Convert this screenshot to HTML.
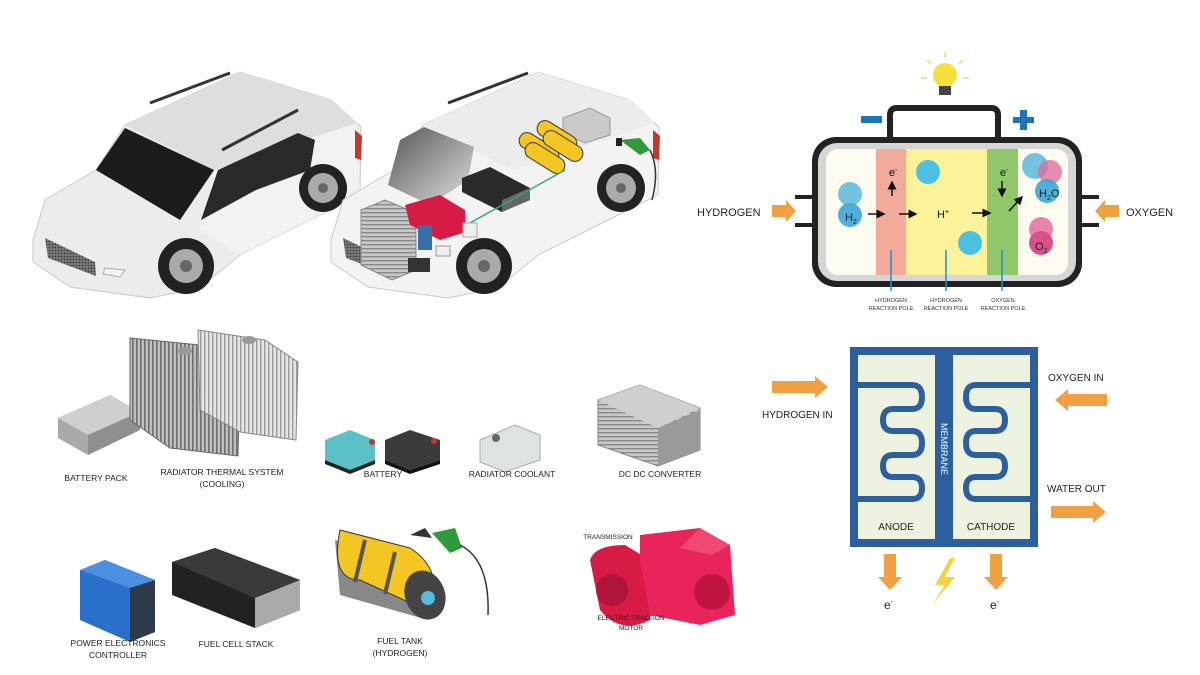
<!DOCTYPE html>
<html><head><meta charset="utf-8"><style>
html,body{margin:0;padding:0;background:#fff;}
svg{display:block;font-family:"Liberation Sans",sans-serif;}
</style></head><body>
<svg width="1200" height="675" viewBox="0 0 1200 675" xmlns="http://www.w3.org/2000/svg">
<defs>
<marker id="ah" markerWidth="6" markerHeight="6" refX="5" refY="3" orient="auto"><path d="M0,0L6,3L0,6z" fill="#111"/></marker>
<pattern id="fins" width="4" height="4" patternUnits="userSpaceOnUse"><rect width="4" height="4" fill="#bfbfbf"/><rect width="1.6" height="4" fill="#6e6e6e"/></pattern>
<pattern id="fins2" width="4" height="4" patternUnits="userSpaceOnUse"><rect width="4" height="4" fill="#e6e6e6"/><rect width="1.4" height="4" fill="#9a9a9a"/></pattern>
<pattern id="hfins" width="4" height="4" patternUnits="userSpaceOnUse"><rect width="4" height="4" fill="#c8c8c8"/><rect width="4" height="1.4" fill="#8a8a8a"/></pattern>
<pattern id="grille" width="3" height="3" patternUnits="userSpaceOnUse"><rect width="3" height="3" fill="#777"/><circle cx="1.5" cy="1.5" r="0.8" fill="#333"/></pattern>
<linearGradient id="bay" x1="0" y1="0" x2="1" y2="1"><stop offset="0" stop-color="#555"/><stop offset="1" stop-color="#e0e0e0"/></linearGradient>
</defs>
<rect width="1200" height="675" fill="#fff"/>

<!-- LEFT CAR -->
<g id="car">
<path d="M33,240 L45,200 L96,170 L125,125 L240,72 L331,100 L361,127 L360,195 L320,215 L240,255 L200,288 L150,298 L70,287 L33,262 Z" fill="#ececec" stroke="#c9c9c9"/>
<path d="M125,125 L240,72 L331,100 L357,123 L214,170 Z" fill="#dedede"/>
<path d="M214,170 L357,123 L360,195 L320,215 L240,255 L200,230 Z" fill="#f2f2f2"/>
<path d="M96,170 L125,128 L214,170 L180,220 Z" fill="#1c1c1c"/>
<path d="M201,220 L218,170 L298,133 L315,140 L310,170 L256,190 Z" fill="#2a2a2a"/>
<path d="M150,103 L230,73" stroke="#333" stroke-width="3" fill="none"/>
<path d="M222,150 L298,110" stroke="#333" stroke-width="3" fill="none"/>
<path d="M45,238 L95,262 L96,276 L48,258 Z" fill="url(#grille)"/>
<path d="M105,268 L125,270 L120,277 L103,274Z" fill="#f4f4f4" stroke="#aaa"/>
<path d="M355,130 L362,136 L361,160 L355,158Z" fill="#c0392b"/>
<circle cx="186" cy="266" r="28" fill="#222"/><circle cx="186" cy="266" r="17" fill="#aaa"/><circle cx="186" cy="266" r="6" fill="#666"/>
<circle cx="323" cy="188" r="24" fill="#222"/><circle cx="323" cy="188" r="15" fill="#aaa"/><circle cx="323" cy="188" r="5" fill="#666"/>
</g>

<!-- RIGHT CAR -->
<g transform="translate(298,0)">
<path d="M33,240 L45,200 L96,170 L125,125 L240,72 L331,100 L361,127 L360,195 L320,215 L240,255 L200,288 L150,298 L70,287 L33,262 Z" fill="#f3f3f3" stroke="#c9c9c9"/>
<path d="M125,125 L240,72 L331,100 L357,123 L214,170 Z" fill="#ececec"/>
<path d="M150,103 L230,73" stroke="#333" stroke-width="3" fill="none"/>
<path d="M45,238 L95,262 L96,276 L48,258 Z" fill="url(#grille)"/>
<path d="M355,130 L362,136 L361,160 L355,158Z" fill="#c0392b"/>
</g>
<path d="M388,185 L400,140 L424,127 L474,147 L468,180 L430,205 Z" fill="url(#bay)"/>
<path d="M563,118 L590,108 L610,118 L610,135 L585,143 L563,133Z" fill="#c9c9c9" stroke="#999"/>
<g stroke="#333" stroke-width="1">
<rect x="517" y="140" width="44" height="16" rx="8" fill="#f3c623" transform="rotate(32 539 148)"/>
<rect x="535" y="128" width="44" height="16" rx="8" fill="#f3c623" transform="rotate(32 557 136)"/>
<rect x="523" y="150" width="44" height="16" rx="8" fill="#f3c623" transform="rotate(32 545 158)"/>
<rect x="541" y="138" width="44" height="16" rx="8" fill="#f3c623" transform="rotate(32 563 146)"/>
</g>
<path d="M462,178 L490,167 L530,188 L530,200 L502,212 L462,192Z" fill="#2a2a2a"/>
<path d="M502,200 L530,188 L530,200 L502,212Z" fill="#666"/>
<path d="M470,223 L565,170" stroke="#3aa37a" stroke-width="1.5"/>
<path d="M361,210 L385,200 L416,213 L416,270 L392,280 L361,265Z" fill="url(#hfins)" stroke="#888"/>
<path d="M405,205 L440,195 L465,210 L466,232 L440,240 L410,225Z" fill="#d81b45"/>
<rect x="418" y="225" width="14" height="25" fill="#3a6ea8"/>
<rect x="408" y="258" width="22" height="14" fill="#333"/>
<rect x="436" y="246" width="14" height="10" fill="#eee" stroke="#999"/>
<rect x="463" y="223" width="14" height="14" fill="#eee" stroke="#aaa"/>
<path d="M620,140 L640,138 L650,150 L640,155Z" fill="#2e9a3b"/>
<rect x="616" y="138" width="6" height="8" fill="#222"/>
<path d="M650,150 Q660,170 652,200" stroke="#333" fill="none" stroke-width="1.5"/>
<circle cx="484" cy="266" r="28" fill="#222"/><circle cx="484" cy="266" r="17" fill="#aaa"/><circle cx="484" cy="266" r="6" fill="#666"/>
<circle cx="621" cy="188" r="24" fill="#222"/><circle cx="621" cy="188" r="15" fill="#aaa"/><circle cx="621" cy="188" r="5" fill="#666"/>

<!-- COMPONENTS ROW 1 -->
<path d="M58,418 L110,395 L140,412 L140,430 L88,455 L58,438Z" fill="#a9a9a9"/>
<path d="M58,418 L110,395 L140,412 L88,435Z" fill="#cfcfcf"/>
<path d="M88,435 L140,412 L140,430 L88,455Z" fill="#8f8f8f"/>
<path d="M130,338 L200,345 L240,372 L238,456 L170,448 L130,420Z" fill="url(#fins)" stroke="#666"/>
<path d="M198,330 L265,340 L298,362 L296,440 L240,432 L200,410Z" fill="url(#fins2)" stroke="#888"/>
<ellipse cx="185" cy="351" rx="7" ry="4" fill="#999"/><ellipse cx="249" cy="340" rx="7" ry="4" fill="#999"/>
<path d="M325,440 L350,430 L375,440 L375,460 L350,470 L325,460Z" fill="#5bc0c8"/>
<path d="M325,460 L350,470 L375,460 L375,464 L350,474 L325,464Z" fill="#222"/>
<path d="M385,440 L410,430 L440,440 L440,460 L410,470 L385,460Z" fill="#3b3b3b"/>
<path d="M385,460 L410,470 L440,460 L440,464 L410,474 L385,464Z" fill="#111"/>
<circle cx="372" cy="442" r="3" fill="#c0392b"/><circle cx="434" cy="441" r="3" fill="#c0392b"/>
<path d="M480,440 L515,425 L540,435 L540,460 L505,472 L480,462Z" fill="#dde3df" stroke="#aaa"/>
<circle cx="496" cy="438" r="4" fill="#666"/>
<path d="M598,400 L640,385 L700,408 L700,450 L658,466 L598,445Z" fill="url(#hfins)" stroke="#888"/>
<path d="M658,428 L700,410 L700,450 L658,466Z" fill="#9a9a9a"/>
<path d="M598,400 L640,385 L700,408 L658,428Z" fill="#cfcfcf"/>

<g font-size="8.5" fill="#222" text-anchor="middle">
<text x="96" y="481">BATTERY PACK</text>
<text x="222" y="475">RADIATOR THERMAL SYSTEM</text><text x="222" y="487">(COOLING)</text>
<text x="383" y="477">BATTERY</text>
<text x="512" y="477">RADIATOR COOLANT</text>
<text x="660" y="477">DC DC CONVERTER</text>
</g>

<!-- ROW 2 -->
<path d="M80,570 L105,560 L155,580 L155,632 L130,642 L80,620Z" fill="#2a6fc9"/>
<path d="M130,588 L155,580 L155,632 L130,642Z" fill="#2d3b4a"/>
<path d="M80,570 L105,560 L155,580 L130,588Z" fill="#4d8fe0"/>
<path d="M172,562 L215,548 L300,580 L300,610 L255,628 L172,595Z" fill="#222"/>
<path d="M172,562 L215,548 L300,580 L255,598Z" fill="#3a3a3a"/>
<path d="M255,598 L300,580 L300,610 L255,628Z" fill="#aaa"/>
<path d="M335,540 L420,565 L428,620 L340,595 Z" fill="#555" opacity="0.7"/>
<path d="M340,530 Q330,580 360,580 L430,612 Q445,570 410,548 Z" fill="#f3c623" stroke="#333"/>
<ellipse cx="425" cy="595" rx="20" ry="25" fill="#444" transform="rotate(-20 425 595)"/>
<circle cx="428" cy="598" r="7" fill="#5bb8dd"/>
<path d="M365,540 L355,582 M395,552 L385,594" stroke="#555" stroke-width="4"/>
<path d="M410,535 L425,528 L432,538" fill="#333"/>
<path d="M432,533 L455,528 L462,548 L450,553Z" fill="#2e9a3b"/>
<path d="M460,545 Q490,560 488,615" stroke="#333" stroke-width="1.5" fill="none"/>
<path d="M590,560 Q595,545 625,545 L650,560 L650,620 Q620,635 600,610Z" fill="#d81b45"/>
<path d="M640,535 L700,528 L730,545 L735,615 L700,625 L650,615 L640,560Z" fill="#e8245a"/>
<path d="M700,528 L730,545 L712,555 L680,548Z" fill="#f04870"/>
<circle cx="612" cy="590" r="16" fill="#b0143a"/>
<circle cx="712" cy="592" r="18" fill="#c01540"/>

<g font-size="8.5" fill="#222" text-anchor="middle">
<text x="118" y="646">POWER ELECTRONICS</text><text x="118" y="658">CONTROLLER</text>
<text x="236" y="647">FUEL CELL STACK</text>
<text x="400" y="644">FUEL TANK</text><text x="400" y="656">(HYDROGEN)</text>
<text x="608" y="539" font-size="6.5">TRANSMISSION</text>
<text x="631" y="620" font-size="6.5">ELECTRIC TRACTION</text><text x="631" y="630" font-size="6.5">MOTOR</text>
</g>

<!-- FUEL CELL DIAGRAM -->
<g>
<circle cx="945" cy="75" r="12" fill="#f5e03c"/>
<rect x="939" y="86" width="12" height="9" fill="#444"/>
<g stroke="#f2d07a" stroke-width="1.5"><line x1="945" y1="52" x2="945" y2="58"/><line x1="927" y1="60" x2="931" y2="64"/><line x1="963" y1="60" x2="959" y2="64"/><line x1="921" y1="78" x2="927" y2="78"/><line x1="963" y1="78" x2="969" y2="78"/></g>
<path d="M890,138 L890,115 Q890,108 897,108 L991,108 Q998,108 998,115 L998,138" fill="none" stroke="#222" stroke-width="6"/>
<rect x="861" y="116" width="21" height="7" fill="#1c74bb"/>
<rect x="1013" y="117" width="21" height="6" fill="#1c74bb"/><rect x="1020" y="110" width="7" height="20" fill="#1c74bb"/>
<rect x="812" y="137" width="270" height="150" rx="24" fill="#222"/>
<rect x="818" y="143" width="258" height="138" rx="19" fill="#d6d6d6"/>
<rect x="826" y="149" width="242" height="126" rx="12" fill="#fdfbf0"/>
<rect x="876" y="149" width="30" height="126" fill="#f2aa9a"/>
<rect x="906" y="149" width="81" height="126" fill="#fbf29a"/>
<rect x="987" y="149" width="31" height="126" fill="#8fc76a"/>
<rect x="795" y="195" width="18" height="4" fill="#222"/><rect x="795" y="223" width="18" height="4" fill="#222"/>
<rect x="1081" y="195" width="18" height="4" fill="#222"/><rect x="1081" y="223" width="18" height="4" fill="#222"/>
<path d="M772,205 L786,205 L786,200 L796,211 L786,222 L786,217 L772,217Z" fill="#f0a040"/>
<path d="M1119,205 L1105,205 L1105,200 L1095,211 L1105,222 L1105,217 L1119,217Z" fill="#f0a040"/>
<text x="697" y="216" font-size="11" fill="#222">HYDROGEN</text>
<text x="1126" y="216" font-size="11" fill="#222">OXYGEN</text>
<circle cx="850" cy="194" r="12" fill="#5bb8dd" opacity="0.85"/>
<circle cx="850" cy="215" r="12" fill="#3da6d6" opacity="0.9"/>
<text x="845" y="221" font-size="11" fill="#123">H<tspan font-size="7" dy="3">2</tspan></text>
<circle cx="928" cy="172" r="12" fill="#4cc0e0"/>
<circle cx="970" cy="243" r="12" fill="#4cc0e0"/>
<circle cx="1035" cy="166" r="13" fill="#5bb8dd" opacity="0.85"/>
<circle cx="1050" cy="172" r="12" fill="#e0679a" opacity="0.75"/>
<circle cx="1047" cy="191" r="12" fill="#3da6d6" opacity="0.9"/>
<text x="1039" y="197" font-size="11" fill="#123">H<tspan font-size="7" dy="3">2</tspan><tspan dy="-3">O</tspan></text>
<circle cx="1041" cy="229" r="12" fill="#e0679a" opacity="0.8"/>
<circle cx="1041" cy="243" r="12" fill="#d9508a"/>
<text x="1035" y="250" font-size="11" fill="#222">O<tspan font-size="7" dy="3">2</tspan></text>
<text x="889" y="176" font-size="11" fill="#111">e<tspan font-size="7" dy="-4">-</tspan></text>
<line x1="892" y1="196" x2="892" y2="182" stroke="#111" stroke-width="1.5" marker-end="url(#ah)"/>
<text x="1000" y="176" font-size="11" fill="#111">e<tspan font-size="7" dy="-4">-</tspan></text>
<line x1="1002" y1="181" x2="1002" y2="196" stroke="#111" stroke-width="1.5" marker-end="url(#ah)"/>
<line x1="868" y1="214" x2="884" y2="214" stroke="#111" stroke-width="1.5" marker-end="url(#ah)"/>
<line x1="899" y1="214" x2="916" y2="214" stroke="#111" stroke-width="1.5" marker-end="url(#ah)"/>
<line x1="972" y1="213" x2="990" y2="213" stroke="#111" stroke-width="1.5" marker-end="url(#ah)"/>
<line x1="1009" y1="211" x2="1022" y2="197" stroke="#111" stroke-width="1.5" marker-end="url(#ah)"/>
<text x="937" y="218" font-size="11" fill="#111">H<tspan font-size="7" dy="-4">+</tspan></text>
<g stroke="#1c8fd0" stroke-width="1.5"><line x1="891" y1="250" x2="891" y2="291"/><line x1="946" y1="250" x2="946" y2="291"/><line x1="1002" y1="250" x2="1002" y2="291"/></g>
<g font-size="5.5" fill="#333" text-anchor="middle">
<text x="891" y="302">HYDROGEN</text><text x="891" y="310">REACTION POLE</text>
<text x="946" y="302">HYDROGEN</text><text x="946" y="310">REACTION POLE</text>
<text x="1003" y="302">OXYGEN</text><text x="1003" y="310">REACTION POLE</text>
</g>
</g>

<!-- MEMBRANE DIAGRAM -->
<g>
<rect x="850" y="347" width="188" height="200" fill="#2d5f9e"/>
<rect x="858" y="355" width="77" height="184" fill="#eef3e1"/>
<rect x="953" y="355" width="77" height="184" fill="#eef3e1"/>
<path d="M858,385 L912,385 Q922,385 922,397 Q922,409 912,409 L893,409 Q883,409 883,420 Q883,431 893,431 L912,431 Q922,431 922,443 Q922,455 912,455 L893,455 Q883,455 883,466 Q883,477 893,477 L912,477 Q922,477 922,488 Q922,499 912,499 L858,499" fill="none" stroke="#2d5f9e" stroke-width="6"/>
<path d="M1030,385 L976,385 Q966,385 966,397 Q966,409 976,409 L995,409 Q1005,409 1005,420 Q1005,431 995,431 L976,431 Q966,431 966,443 Q966,455 976,455 L995,455 Q1005,455 1005,466 Q1005,477 995,477 L976,477 Q966,477 966,488 Q966,499 976,499 L1030,499" fill="none" stroke="#2d5f9e" stroke-width="6"/>
<text x="0" y="0" font-size="9" fill="#fff" transform="translate(941,423) rotate(90)">MEMBRANE</text>
<text x="896" y="530" font-size="10" fill="#222" text-anchor="middle">ANODE</text>
<text x="991" y="530" font-size="10" fill="#222" text-anchor="middle">CATHODE</text>
<path d="M772,381 L815,381 L815,376 L828,387 L815,398 L815,393 L772,393Z" fill="#f0a040"/>
<path d="M1107,394 L1068,394 L1068,389 L1055,400 L1068,411 L1068,406 L1107,406Z" fill="#f0a040"/>
<path d="M1051,506 L1093,506 L1093,501 L1106,512 L1093,523 L1093,518 L1051,518Z" fill="#f0a040"/>
<path d="M884,554 L896,554 L896,577 L902,577 L890,590 L878,577 L884,577Z" fill="#f0a040"/>
<path d="M990,554 L1002,554 L1002,577 L1008,577 L996,590 L984,577 L990,577Z" fill="#f0a040"/>
<path d="M950,558 L935,585 L945,585 L932,605 L955,577 L945,577 L955,558Z" fill="#f5d040"/>
<text x="762" y="418" font-size="10" fill="#222">HYDROGEN IN</text>
<text x="1048" y="381" font-size="10" fill="#222">OXYGEN IN</text>
<text x="1047" y="492" font-size="10" fill="#222">WATER OUT</text>
<text x="884" y="609" font-size="12" fill="#222">e<tspan font-size="7" dy="-5">-</tspan></text>
<text x="990" y="609" font-size="12" fill="#222">e<tspan font-size="7" dy="-5">-</tspan></text>
</g>
</svg>
</body></html>
